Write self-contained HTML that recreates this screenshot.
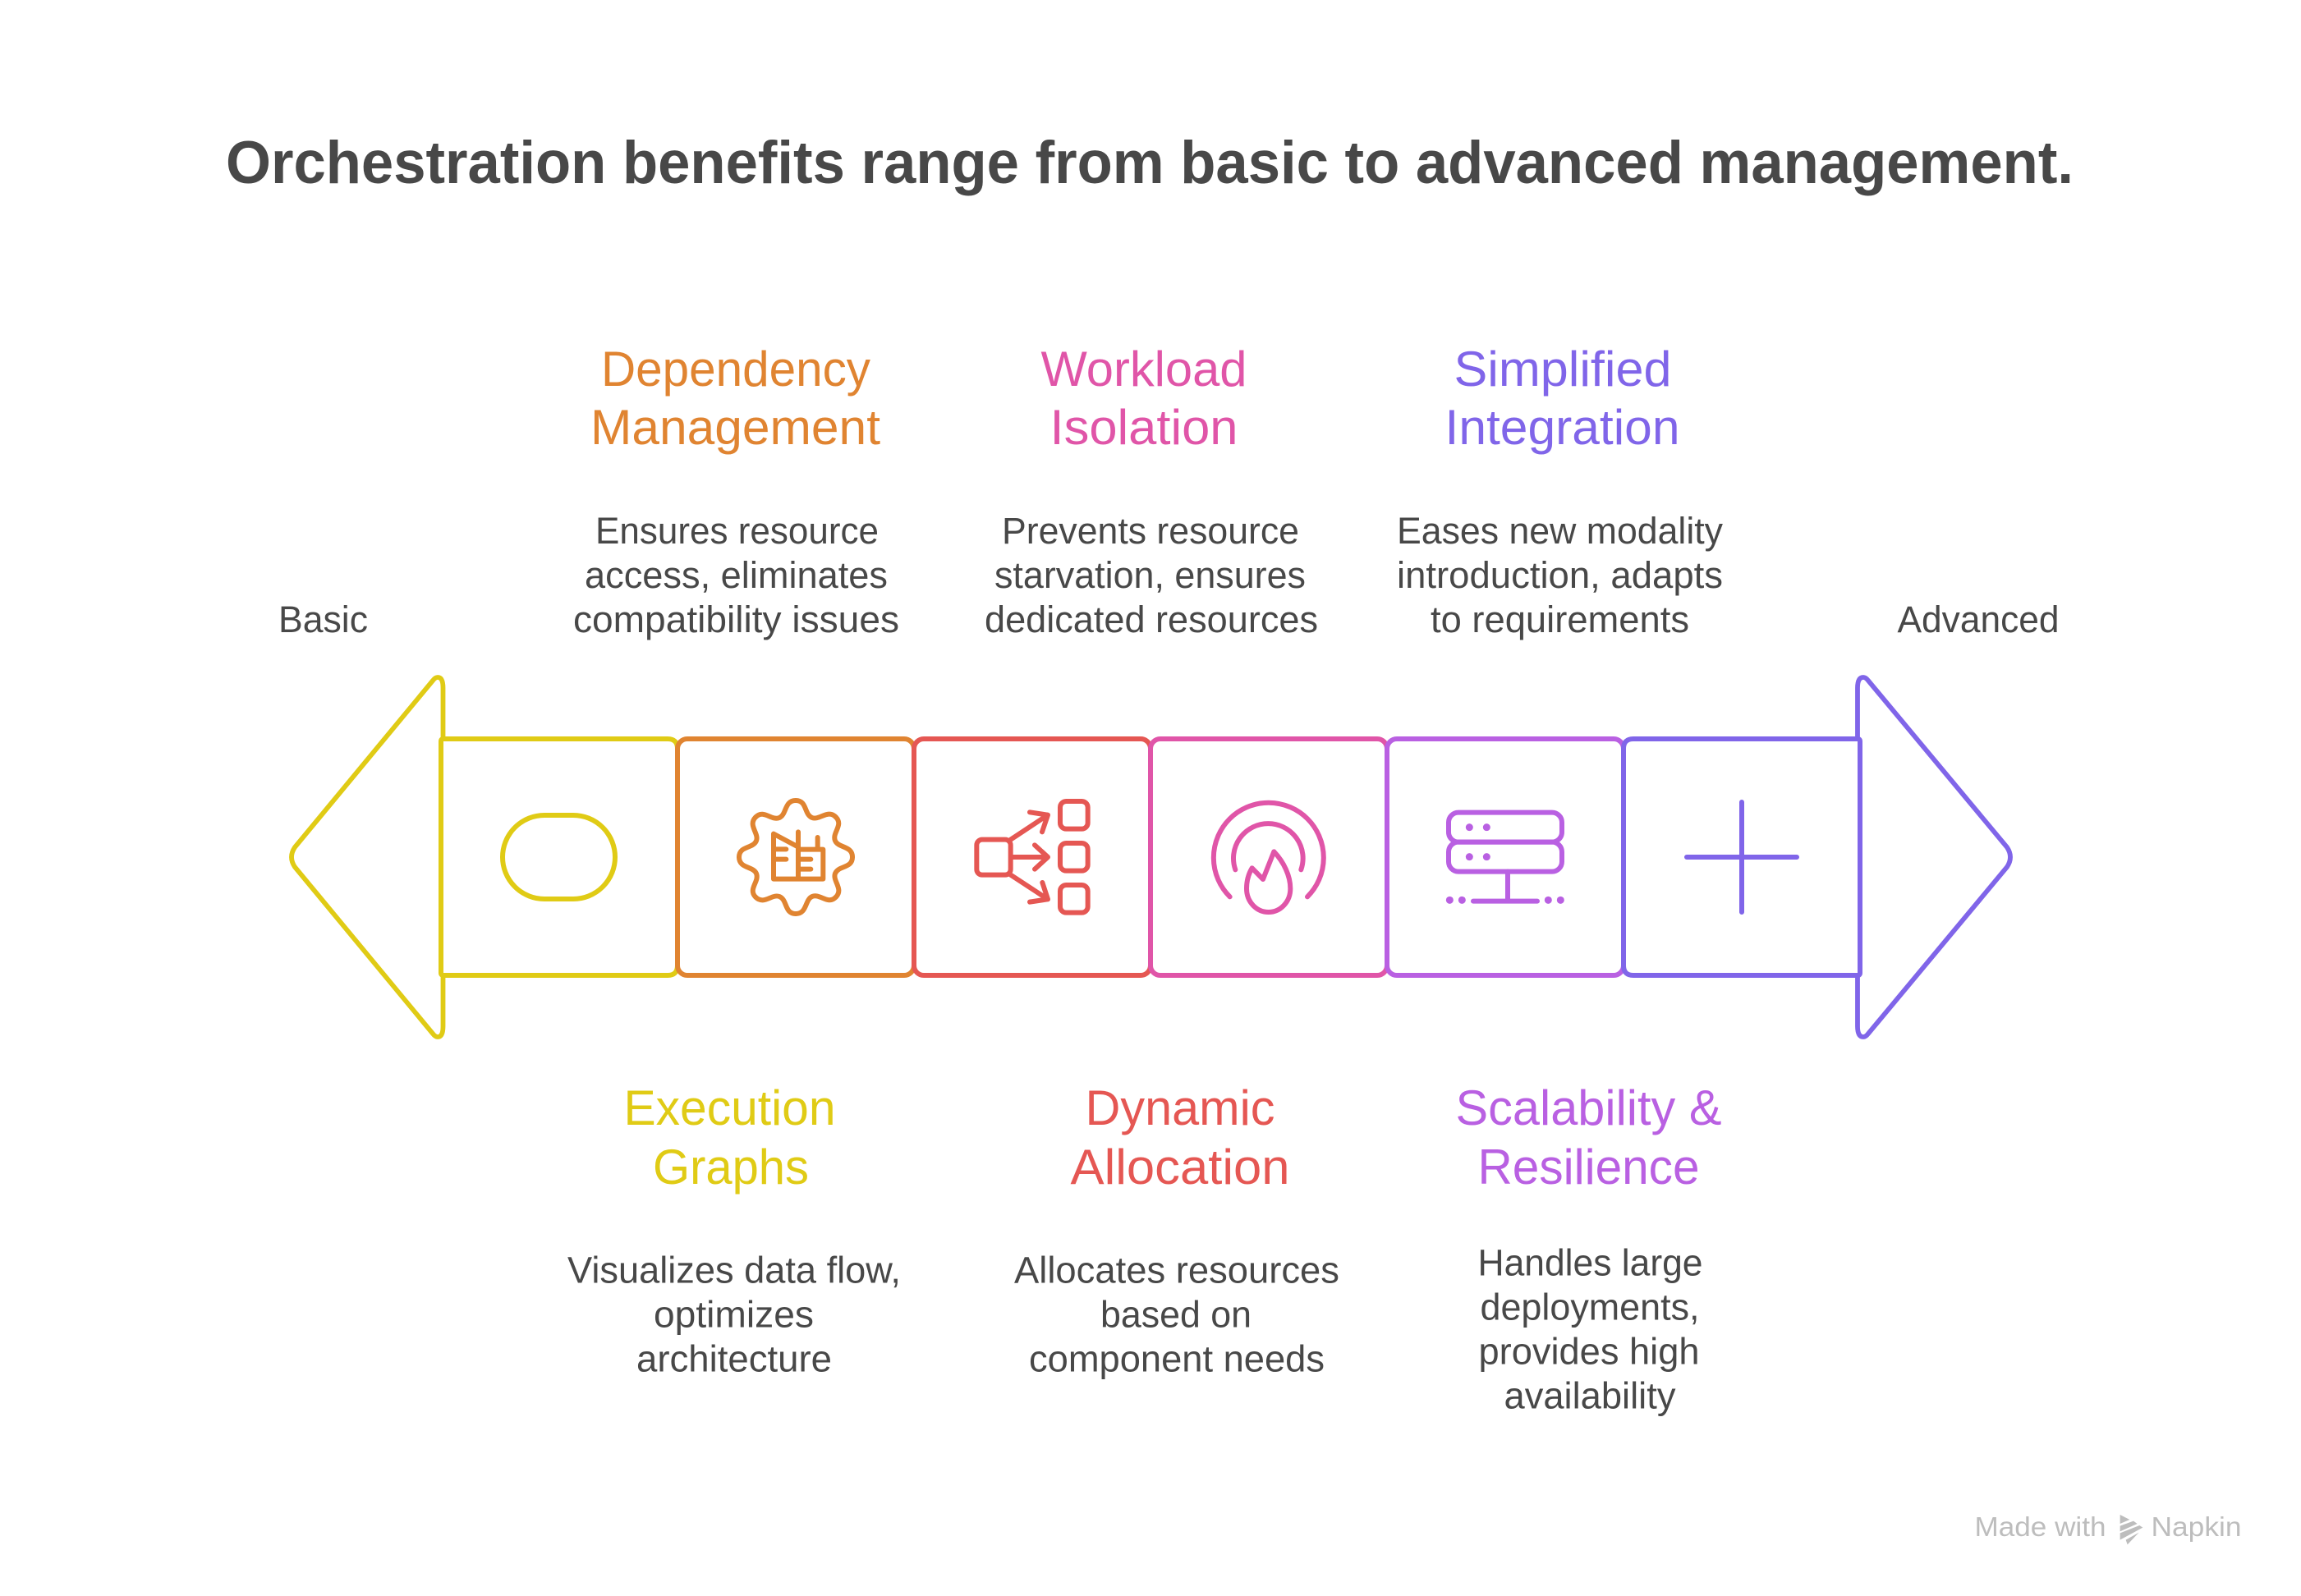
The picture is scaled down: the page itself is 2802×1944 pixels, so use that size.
<!DOCTYPE html>
<html lang="en"><head><meta charset="utf-8"><title>Orchestration benefits</title>
<style>
html,body{margin:0;padding:0;background:#fff;width:2802px;height:1944px;overflow:hidden}
svg{display:block}
text{font-family:"Liberation Sans",sans-serif;fill:#484848}
.h{font-size:60px}.b{font-size:45px}
.i{fill:none;stroke-linecap:round;stroke-linejoin:round}
</style></head><body>
<svg xmlns="http://www.w3.org/2000/svg" xmlns:xlink="http://www.w3.org/1999/xlink" width="2802" height="1944" viewBox="0 0 2802 1944">
<rect width="2802" height="1944" fill="#fff"/>
<text x="275" y="223" font-size="73" font-weight="700" textLength="2250" lengthAdjust="spacingAndGlyphs">Orchestration benefits range from basic to advanced management.</text>

<g>
<g style="fill:#e08431"><text class="h" style="fill:inherit" x="732" y="470" textLength="328" lengthAdjust="spacingAndGlyphs">Dependency</text><text class="h" style="fill:inherit" x="719" y="541" textLength="353" lengthAdjust="spacingAndGlyphs">Management</text></g>
<g style="fill:#e055a8"><text class="h" style="fill:inherit" x="1267.5" y="470" textLength="251" lengthAdjust="spacingAndGlyphs">Workload</text><text class="h" style="fill:inherit" x="1278.5" y="541" textLength="229" lengthAdjust="spacingAndGlyphs">Isolation</text></g>
<g style="fill:#8065e9"><text class="h" style="fill:inherit" x="1770.5" y="470" textLength="265" lengthAdjust="spacingAndGlyphs">Simplified</text><text class="h" style="fill:inherit" x="1759.5" y="541" textLength="286" lengthAdjust="spacingAndGlyphs">Integration</text></g>
<g style="fill:#e0cb15"><text class="h" style="fill:inherit" x="759.5" y="1370" textLength="258" lengthAdjust="spacingAndGlyphs">Execution</text><text class="h" style="fill:inherit" x="795" y="1442" textLength="190" lengthAdjust="spacingAndGlyphs">Graphs</text></g>
<g style="fill:#e55753"><text class="h" style="fill:inherit" x="1321.5" y="1370" textLength="231" lengthAdjust="spacingAndGlyphs">Dynamic</text><text class="h" style="fill:inherit" x="1303.5" y="1442" textLength="267" lengthAdjust="spacingAndGlyphs">Allocation</text></g>
<g style="fill:#b960e2"><text class="h" style="fill:inherit" x="1772.5" y="1370" textLength="324" lengthAdjust="spacingAndGlyphs">Scalability &amp;</text><text class="h" style="fill:inherit" x="1799.5" y="1442" textLength="270" lengthAdjust="spacingAndGlyphs">Resilience</text></g>
</g>

<g>
<text class="b" x="725" y="662" textLength="345" lengthAdjust="spacingAndGlyphs">Ensures resource</text>
<text class="b" x="712" y="716" textLength="369" lengthAdjust="spacingAndGlyphs">access, eliminates</text>
<text class="b" x="698" y="770" textLength="397" lengthAdjust="spacingAndGlyphs">compatibility issues</text>
<text class="b" x="1220" y="662" textLength="362" lengthAdjust="spacingAndGlyphs">Prevents resource</text>
<text class="b" x="1211" y="716" textLength="379" lengthAdjust="spacingAndGlyphs">starvation, ensures</text>
<text class="b" x="1199" y="770" textLength="406" lengthAdjust="spacingAndGlyphs">dedicated resources</text>
<text class="b" x="1701" y="662" textLength="397" lengthAdjust="spacingAndGlyphs">Eases new modality</text>
<text class="b" x="1701" y="716" textLength="397" lengthAdjust="spacingAndGlyphs">introduction, adapts</text>
<text class="b" x="1742" y="770" textLength="315" lengthAdjust="spacingAndGlyphs">to requirements</text>
<text class="b" x="339" y="770" textLength="109" lengthAdjust="spacingAndGlyphs">Basic</text>
<text class="b" x="2310.5" y="770" textLength="197" lengthAdjust="spacingAndGlyphs">Advanced</text>
<text class="b" x="691" y="1562.5" textLength="406" lengthAdjust="spacingAndGlyphs">Visualizes data flow,</text>
<text class="b" x="796" y="1616.5" textLength="195" lengthAdjust="spacingAndGlyphs">optimizes</text>
<text class="b" x="775" y="1670.5" textLength="238" lengthAdjust="spacingAndGlyphs">architecture</text>
<text class="b" x="1235" y="1562.5" textLength="396" lengthAdjust="spacingAndGlyphs">Allocates resources</text>
<text class="b" x="1340" y="1616.5" textLength="184" lengthAdjust="spacingAndGlyphs">based on</text>
<text class="b" x="1253" y="1670.5" textLength="360" lengthAdjust="spacingAndGlyphs">component needs</text>
<text class="b" x="1799.5" y="1553.5" textLength="274" lengthAdjust="spacingAndGlyphs">Handles large</text>
<text class="b" x="1802.5" y="1607.5" textLength="267" lengthAdjust="spacingAndGlyphs">deployments,</text>
<text class="b" x="1800.5" y="1661.5" textLength="269" lengthAdjust="spacingAndGlyphs">provides high</text>
<text class="b" x="1831.5" y="1715.5" textLength="209" lengthAdjust="spacingAndGlyphs">availability</text>
</g>

<!-- arrow heads -->
<path class="i" stroke="#e0cb15" stroke-width="5.8" d="M539.5,900V838Q539.5,825 533,825Q530,825 527,829L359,1032Q351,1044 359,1056L527,1259Q530,1263 533,1263Q539.5,1263 539.5,1250V1188"/>
<path class="i" stroke="#8065e9" stroke-width="5.8" d="M2262,900V838Q2262,825 2269,825Q2272,825 2275,829L2444,1032Q2452,1044 2444,1056L2275,1259Q2272,1263 2269,1263Q2262,1263 2262,1250V1188"/>

<!-- boxes -->
<g fill="none" stroke-width="6" stroke-linejoin="round">
<path stroke="#e0cb15" d="M540,900H813Q825,900 825,912V1176Q825,1188 813,1188H540Q537,1188 537,1185V903Q537,900 540,900Z"/>
<rect x="825" y="900" width="288" height="288" rx="12" stroke="#e08431"/>
<rect x="1113" y="900" width="288" height="288" rx="12" stroke="#e55753"/>
<rect x="1401" y="900" width="288" height="288" rx="12" stroke="#e055a8"/>
<rect x="1689" y="900" width="288" height="288" rx="12" stroke="#b960e2"/>
<path stroke="#8065e9" d="M1989,900H2262Q2265,900 2265,903V1185Q2265,1188 2262,1188H1989Q1977,1188 1977,1176V912Q1977,900 1989,900Z"/>
</g>

<!-- pill -->
<rect x="612" y="993" width="137" height="102" rx="51" fill="none" stroke="#e0cb15" stroke-width="6"/>

<!-- gear -->
<g class="i" stroke="#e08431" stroke-width="6">
<defs><path id="seg" d="M0,-69C14,-69 10,-52 19.9,-48C29,-44.5 38.9,-58.7 48.8,-48.8"/></defs>
<g transform="translate(969,1044)">
<use xlink:href="#seg" href="#seg"/><use xlink:href="#seg" href="#seg" transform="rotate(45)"/><use xlink:href="#seg" href="#seg" transform="rotate(90)"/><use xlink:href="#seg" href="#seg" transform="rotate(135)"/><use xlink:href="#seg" href="#seg" transform="rotate(180)"/><use xlink:href="#seg" href="#seg" transform="rotate(225)"/><use xlink:href="#seg" href="#seg" transform="rotate(270)"/><use xlink:href="#seg" href="#seg" transform="rotate(315)"/>
</g>
<g transform="translate(860,960) scale(.3333)" stroke-width="18">
<path d="M246,167V332H427V224H336M246,167L336,215M336,160V332M407,180V224M246,223H292M246,260H292M336,260H382M336,296H382"/>
</g>
</g>

<!-- network -->
<g class="i" stroke="#e55753" transform="translate(1170,960) scale(.3333)" stroke-width="18">
<rect x="58" y="188" width="124" height="129" rx="20"/>
<rect x="363" y="48" width="101" height="101" rx="22"/>
<rect x="363" y="201" width="101" height="101" rx="22"/>
<rect x="363" y="354" width="101" height="101" rx="22"/>
<path d="M182,188L318,98M252,88L318,98L297,160M190,252H318M270,208L318,252L270,296M182,317L318,406M298,345L318,406L252,416"/>
</g>

<!-- flame -->
<g class="i" stroke="#e055a8" transform="translate(1450,960) scale(.3333)" stroke-width="18">
<path d="M143,397A201,201 0 1 1 426,397"/>
<path d="M163,298A127,127 0 1 1 403,298"/>
<path d="M224,292L264,333L304,232C340,270 364,320 364,367C364,415 328,453 284,453C240,453 204,415 204,367C204,340 212,312 224,292Z"/>
</g>

<!-- server -->
<g class="i" stroke="#b960e2" transform="translate(1750,960) scale(.3333)" stroke-width="18">
<rect x="42" y="89" width="414" height="108" rx="36"/>
<rect x="42" y="197" width="414" height="108" rx="36"/>
<path d="M258,305V413M132,413H366"/>
<g fill="#b960e2" stroke="none">
<circle cx="118" cy="143" r="13.5"/><circle cx="181" cy="143" r="13.5"/><circle cx="118" cy="251" r="13.5"/><circle cx="181" cy="251" r="13.5"/>
<circle cx="46" cy="409" r="13.5"/><circle cx="91" cy="409" r="13.5"/><circle cx="406" cy="409" r="13.5"/><circle cx="451" cy="409" r="13.5"/>
</g>
</g>

<!-- plus -->
<path class="i" stroke="#8065e9" stroke-width="6" d="M2121,977V1111M2054,1044H2188"/>

<!-- footer -->
<g>
<text style="fill:#bdbdbd" x="2404.5" y="1871" font-size="33" textLength="160" lengthAdjust="spacingAndGlyphs">Made with</text>
<text style="fill:#bdbdbd" x="2619.5" y="1871" font-size="33" textLength="110" lengthAdjust="spacingAndGlyphs">Napkin</text>
<g transform="translate(2400,1830) scale(.3333)" fill="#bdbdbd">
<polygon points="545,45 580,63 545,78"/>
<polygon points="545,86 594,68 608,78 545,106"/>
<polygon points="545,112 616,84 628,92 545,137"/>
<polygon points="566,137 614,110 572,154"/>
</g>
</g>
</svg>
</body></html>
